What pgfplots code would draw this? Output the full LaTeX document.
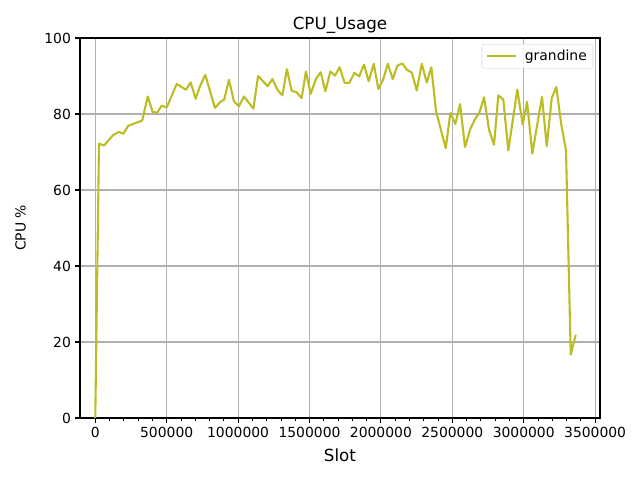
\documentclass[border=0pt]{standalone}
\usepackage{fontspec}
\setmainfont{DejaVu Sans}
\usepackage{pgfplots}
\pgfplotsset{compat=1.18}

\definecolor{olive}{RGB}{188,189,34}
\definecolor{gridgray}{RGB}{176,176,176}

\newcommand{\ticksize}{\fontsize{13.9bp}{16bp}\selectfont}
\newcommand{\labsize}{\fontsize{16.7bp}{19bp}\selectfont}

\begin{document}
\begin{tikzpicture}
\useasboundingbox (-80bp,-62bp) rectangle (560bp,418bp);
\begin{axis}[
    scale only axis,
    width=520bp,
    height=380bp,
    xmin=-107000, xmax=3534000,
    ymin=0, ymax=100,
    xtick={0,500000,1000000,1500000,2000000,2500000,3000000,3500000},
    ytick={0,20,40,60,80,100},
    minor x tick num=4,
    scaled x ticks=false,
    /pgf/number format/fixed,
    /pgf/number format/precision=0,
    /pgf/number format/1000 sep={},
    /pgf/number format/assume math mode=true,
    tick align=outside,
    tick pos=left,
    major tick length=4.9bp,
    minor tick length=2.8bp,
    every tick/.style={black, line width=1.1bp},
    minor tick style={black, line width=0.85bp},
    axis line style={line width=1.1bp},
    grid=major,
    major grid style={gridgray, line width=1.1bp},
    tick label style={font=\ticksize},
    xticklabel style={inner sep=0pt, yshift=-4bp},
    yticklabel style={inner sep=0pt, xshift=-4bp},
    title={CPU\_Usage},
    title style={font=\labsize, at={(axis description cs:0.5,1)}, anchor=south, inner sep=0pt, yshift=-2bp},
    xlabel={Slot},
    xlabel style={font=\labsize, at={(axis description cs:0.5,0)}, anchor=north, inner sep=0pt, yshift=-31bp},
    ylabel={CPU \%},
    ylabel style={font=\ticksize, at={(axis description cs:-0.1038,0.5)}, anchor=south, inner sep=0pt},
    legend style={at={(axis description cs:1,1)}, anchor=north east, xshift=-7bp, yshift=-6bp,
        draw=gray!40, rounded corners=2bp, fill=white, fill opacity=0.8, text opacity=1,
        font=\ticksize, inner sep=4bp, row sep=0bp},
    legend cell align=left,
    legend image code/.code={\draw[#1] (0bp,0bp) -- (29bp,0bp);},
]
\addplot[olive, line width=2.1bp, line join=round] coordinates {
(0,0)
(26000,72.2)
(61000,71.7)
(126000,74.5)
(166000,75.3)
(196000,74.8)
(231000,76.9)
(266000,77.4)
(329000,78.3)
(367000,84.6)
(402000,80.5)
(434000,80.4)
(465000,82.2)
(500000,81.7)
(570000,87.9)
(635000,86.4)
(668000,88.3)
(703000,84.0)
(733000,87.3)
(770000,90.3)
(838000,81.6)
(873000,83.1)
(903000,83.8)
(936000,89.0)
(971000,83.3)
(1006000,82.0)
(1041000,84.6)
(1107000,81.4)
(1140000,90.0)
(1207000,87.3)
(1240000,89.2)
(1275000,86.4)
(1310000,84.9)
(1342000,91.8)
(1375000,86.1)
(1410000,85.7)
(1445000,84.2)
(1475000,91.2)
(1508000,85.3)
(1545000,89.2)
(1578000,91.0)
(1611000,86.0)
(1646000,91.2)
(1679000,90.1)
(1711000,92.3)
(1746000,88.2)
(1779000,88.2)
(1814000,90.8)
(1847000,89.9)
(1882000,93.0)
(1914000,88.6)
(1950000,93.2)
(1982000,86.6)
(2015000,89.0)
(2048000,93.2)
(2083000,89.2)
(2115000,92.7)
(2150000,93.3)
(2183000,91.6)
(2216000,90.9)
(2251000,86.2)
(2286000,93.2)
(2321000,88.3)
(2353000,92.3)
(2386000,80.7)
(2454000,71.0)
(2486000,80.3)
(2521000,77.4)
(2554000,82.6)
(2589000,71.3)
(2624000,75.9)
(2657000,78.5)
(2689000,80.3)
(2722000,84.4)
(2757000,75.9)
(2792000,71.9)
(2822000,84.9)
(2857000,83.8)
(2892000,70.4)
(2955000,86.4)
(2993000,77.2)
(3023000,83.2)
(3060000,69.6)
(3128000,84.5)
(3161000,71.5)
(3196000,84.2)
(3228000,87.1)
(3263000,77.2)
(3296000,70.4)
(3329000,16.7)
(3364000,21.9)
};
\addlegendentry{\hspace{6bp}grandine}
\end{axis}
\end{tikzpicture}
\end{document}
